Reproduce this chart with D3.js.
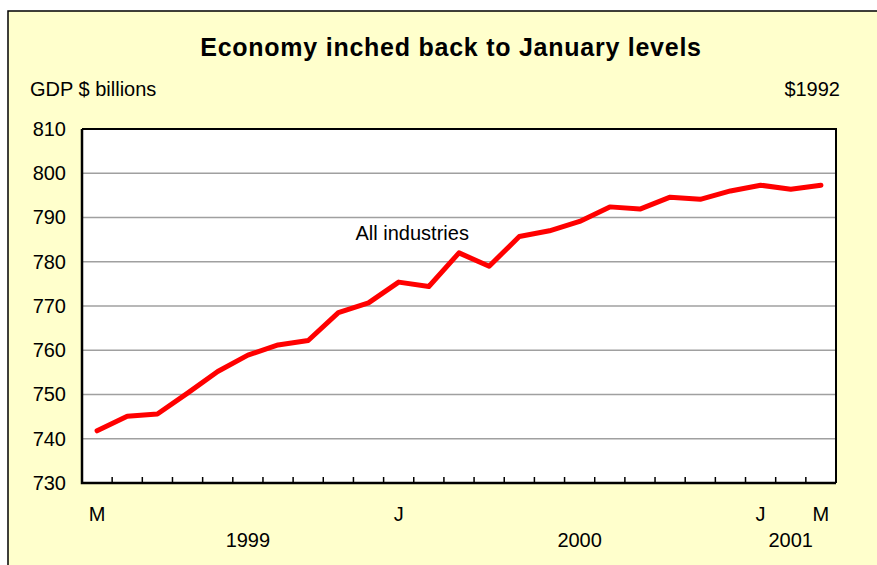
<!DOCTYPE html>
<html>
<head>
<meta charset="utf-8">
<script src="https://cdn.jsdelivr.net/npm/d3@7"></script>
<style>
    body { margin: 0; background: #ffffff; }
    text { font-family: 'Liberation Sans', Arial, sans-serif; fill: #000000; }
</style>
</head>
<body>
<svg id="chart" width="877" height="565"></svg>
<script>
'use strict'
/*
GDP line chart, monthly, Mar 1999 - Mar 2001
*/

// months on the x axis (one band each)
const months = [
    '1999-03', '1999-04', '1999-05', '1999-06', '1999-07', '1999-08', '1999-09',
    '1999-10', '1999-11', '1999-12', '2000-01', '2000-02', '2000-03', '2000-04',
    '2000-05', '2000-06', '2000-07', '2000-08', '2000-09', '2000-10', '2000-11',
    '2000-12', '2001-01', '2001-02', '2001-03'
];
// GDP, $ billions ($1992)
const gdp_values = [
    741.8, 745.1, 745.6, 750.3, 755.2, 758.9, 761.2,
    762.2, 768.5, 770.7, 775.4, 774.4, 782.0, 779.0,
    785.7, 787.0, 789.1, 792.4, 791.9, 794.6, 794.1,
    796.0, 797.3, 796.4, 797.3
];
const y_ticks = [730, 740, 750, 760, 770, 780, 790, 800, 810];
const month_labels = [
    { month: '1999-03', label: 'M' },
    { month: '2000-01', label: 'J' },
    { month: '2001-01', label: 'J' },
    { month: '2001-03', label: 'M' }
];
const year_labels = [
    { month: '1999-08', label: '1999' },
    { month: '2000-07', label: '2000' },
    { month: '2001-02', label: '2001' }
];
const series_label = { month: '1999-12', value: 785, label: 'All industries' };

const size = {
    WIDTH: 877,
    HEIGHT: 565,
    PLOT_LEFT: 82,
    PLOT_RIGHT: 836,
    PLOT_TOP: 129,
    PLOT_BOTTOM: 483,
    TICK_LEN: 6
};

const svg = d3.select('#chart');

const x = d3.scaleBand()
    .domain(months)
    .range([size.PLOT_LEFT, size.PLOT_RIGHT])
    .padding(0)
;
const y = d3.scaleLinear()
    .domain([730, 810])
    .range([size.PLOT_BOTTOM, size.PLOT_TOP])
;
const x_mid = m => x(m) + x.bandwidth() / 2;

draw_frame();
draw_plot_area();
draw_line();
draw_texts();

// yellow background with outer border
function draw_frame() {
    svg.append('rect')
        .attr('x', 8)
        .attr('y', 11)
        .attr('width', size.WIDTH)
        .attr('height', size.HEIGHT)
        .attr('fill', '#ffffcc')
        .attr('stroke', '#000000')
        .attr('stroke-width', 1.5)
    ;
}

// white plot area, grid lines, axes and ticks
function draw_plot_area() {
    svg.append('rect')
        .attr('x', size.PLOT_LEFT)
        .attr('y', size.PLOT_TOP)
        .attr('width', size.PLOT_RIGHT - size.PLOT_LEFT)
        .attr('height', size.PLOT_BOTTOM - size.PLOT_TOP)
        .attr('fill', '#ffffff')
    ;

    svg.append('g')
        .selectAll('line')
        .data(y_ticks)
        .join('line')
        .attr('x1', size.PLOT_LEFT)
        .attr('x2', size.PLOT_RIGHT)
        .attr('y1', d => y(d))
        .attr('y2', d => y(d))
        .attr('stroke', '#a0a0a0')
        .attr('stroke-width', 1.5)
    ;

    // y axis labels
    const y_axis = d3.axisLeft(y)
        .tickValues(y_ticks)
        .tickSize(0)
        .tickPadding(16)
    ;
    svg.append('g')
        .attr('transform', `translate(${size.PLOT_LEFT},0)`)
        .call(y_axis)
        .call(g => g.select('.domain').remove())
        .call(g => g.selectAll('text')
            .attr('font-size', 20)
            .attr('font-family', "'Liberation Sans', Arial, sans-serif")
            .attr('fill', '#000000'))
    ;

    // tick marks between months, pointing inward
    svg.append('g')
        .selectAll('line')
        .data(months.slice(1))
        .join('line')
        .attr('x1', d => x(d))
        .attr('x2', d => x(d))
        .attr('y1', size.PLOT_BOTTOM)
        .attr('y2', size.PLOT_BOTTOM - size.TICK_LEN)
        .attr('stroke', '#000000')
        .attr('stroke-width', 1.5)
    ;

    // right and top border (thin)
    svg.append('path')
        .attr('d', `M${size.PLOT_LEFT},${size.PLOT_TOP}H${size.PLOT_RIGHT}V${size.PLOT_BOTTOM}`)
        .attr('fill', 'none')
        .attr('stroke', '#000000')
        .attr('stroke-width', 2)
    ;
    // left and bottom axis (thick)
    svg.append('path')
        .attr('d', `M${size.PLOT_LEFT},${size.PLOT_TOP}V${size.PLOT_BOTTOM}H${size.PLOT_RIGHT}`)
        .attr('fill', 'none')
        .attr('stroke', '#000000')
        .attr('stroke-width', 2.5)
    ;
}

// the red series line
function draw_line() {
    const line = d3.line()
        .x((d, i) => x_mid(months[i]))
        .y(d => y(d))
    ;
    svg.append('path')
        .datum(gdp_values)
        .attr('d', line)
        .attr('fill', 'none')
        .attr('stroke', '#ff0000')
        .attr('stroke-width', 5)
        .attr('stroke-linejoin', 'round')
        .attr('stroke-linecap', 'round')
    ;
}

// title, units and axis category labels
function draw_texts() {
    svg.append('text')
        .text('Economy inched back to January levels')
        .attr('x', 451)
        .attr('y', 56)
        .attr('text-anchor', 'middle')
        .attr('font-size', 25)
        .attr('font-weight', 'bold')
        .attr('letter-spacing', 0.75)
    ;
    svg.append('text')
        .text('GDP $ billions')
        .attr('x', 30)
        .attr('y', 96)
        .attr('font-size', 20)
    ;
    svg.append('text')
        .text('$1992')
        .attr('x', 840)
        .attr('y', 96)
        .attr('text-anchor', 'end')
        .attr('font-size', 20)
    ;

    svg.append('text')
        .text(series_label.label)
        .attr('x', x_mid(series_label.month) - 13)
        .attr('y', y(series_label.value))
        .attr('font-size', 20)
    ;

    svg.append('g')
        .selectAll('text')
        .data(month_labels)
        .join('text')
        .text(d => d.label)
        .attr('x', d => x_mid(d.month))
        .attr('y', 521)
        .attr('text-anchor', 'middle')
        .attr('font-size', 20)
    ;
    svg.append('g')
        .selectAll('text')
        .data(year_labels)
        .join('text')
        .text(d => d.label)
        .attr('x', d => x_mid(d.month))
        .attr('y', 547)
        .attr('text-anchor', 'middle')
        .attr('font-size', 20)
    ;
}
</script>
</body>
</html>
